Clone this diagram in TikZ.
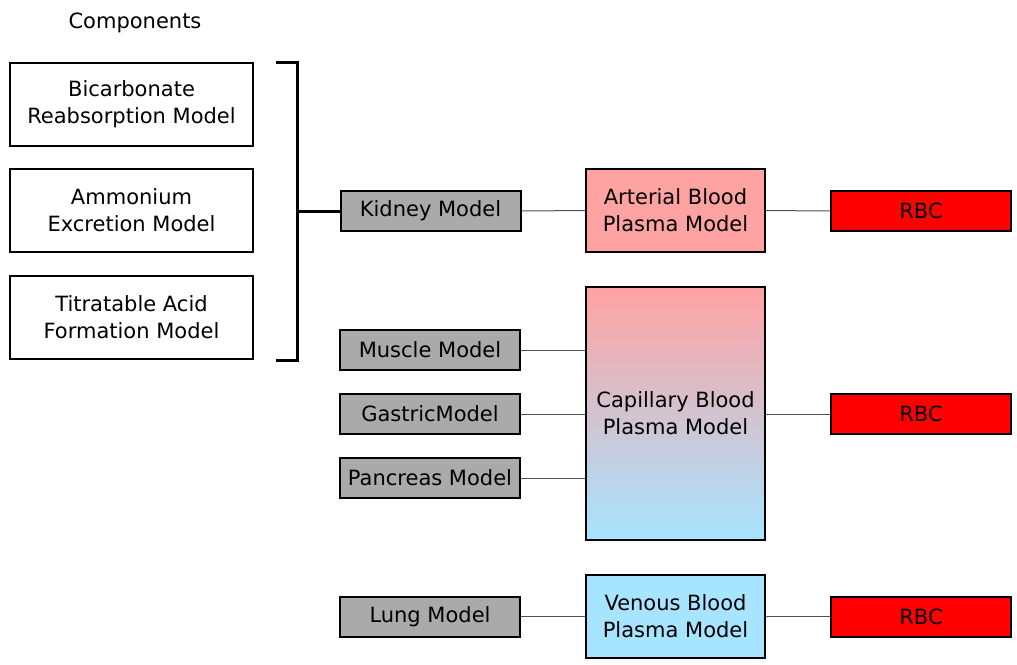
\documentclass[tikz,border=0pt]{standalone}
\usepackage{fontspec}
\setmainfont{DejaVu Sans}
\usepackage{xcolor}
\usepackage{tikz}
\usetikzlibrary{positioning, calc}

\definecolor{artpink}{RGB}{255,162,162}
\definecolor{venblue}{RGB}{166,228,255}
\definecolor{orggray}{RGB}{170,170,170}
\definecolor{rbcred}{RGB}{255,0,0}
\definecolor{linkgray}{RGB}{80,80,80}

\begin{document}
\begin{tikzpicture}[x=1pt, y=-1pt,
			comp/.style={rectangle, draw=black, line width=2pt, fill=white, inner sep=0pt,
				minimum width=243pt, minimum height=83pt, align=center},
			organ/.style={rectangle, draw=black, line width=2pt, fill=orggray, inner sep=0pt,
				minimum width=180pt, minimum height=40pt},
			plasma/.style={rectangle, draw=black, line width=2pt, inner sep=0pt,
				minimum width=179pt, minimum height=83pt, align=center},
			rbc/.style={rectangle, draw=black, line width=2pt, fill=rbcred, inner sep=0pt,
				minimum width=180pt, minimum height=40pt},
			link/.style={-, draw=linkgray, line width=1pt},
			every node/.append style={font=\fontsize{21}{27}\selectfont}
			]
			\useasboundingbox (0,0) rectangle (1017,664);
			\node (comptitle) at (135,23) {Components};
			
			% components of the kidney
			\node[comp] (bicarb) at (131.5,104.5) {Bicarbonate\\Reabsorption Model};
			\node[comp] (ammon) at (131.5,210.5) {Ammonium\\Excretion Model};
			\node[comp] (titra) at (131.5,317.5) {Titratable Acid\\Formation Model};
			\draw[line width=3pt] (276,62) -- (297,62) -- (297,360) -- (276,360);
			\coordinate (brk) at (297,211);
			
			% organs
			\node[organ] (kidney) at (430.5,211) {Kidney Model};
			\node[organ] (muscle) at (430,350) {Muscle Model};
			\node[organ] (gastric) at (430,414) {GastricModel};
			\node[organ] (pancreas) at (430,478) {Pancreas Model};
			\node[organ] (lung) at (430,616.5) {Lung Model};
			
			% plasma compartments
			\node[plasma, fill=artpink] (arterial) at (675.5,210.5) {Arterial Blood\\Plasma Model};
			\node[plasma, minimum height=253pt, top color=artpink, bottom color=venblue]
				(capillary) at (675.5,413.5) {Capillary Blood\\Plasma Model};
			\node[plasma, fill=venblue] (venous) at (675.5,616.5) {Venous Blood\\Plasma Model};
			
			% red blood cells
			\node[rbc] (rbcA) at (921,211) {RBC};
			\node[rbc] (rbcC) at (921,414) {RBC};
			\node[rbc] (rbcV) at (921,616.5) {RBC};
			
			\draw[line width=3pt] (brk) -- (kidney);
			\draw[link] (kidney) -- (arterial);
			\draw[link] (arterial) -- (rbcA);
			\draw[link] (muscle) -- (muscle -| capillary.west);
			\draw[link] (gastric) -- (gastric -| capillary.west);
			\draw[link] (pancreas) -- (pancreas -| capillary.west);
			\draw[link] (capillary.east |- rbcC) -- (rbcC);
			\draw[link] (lung) -- (venous);
			\draw[link] (venous) -- (rbcV);
		\end{tikzpicture}
\end{document}
